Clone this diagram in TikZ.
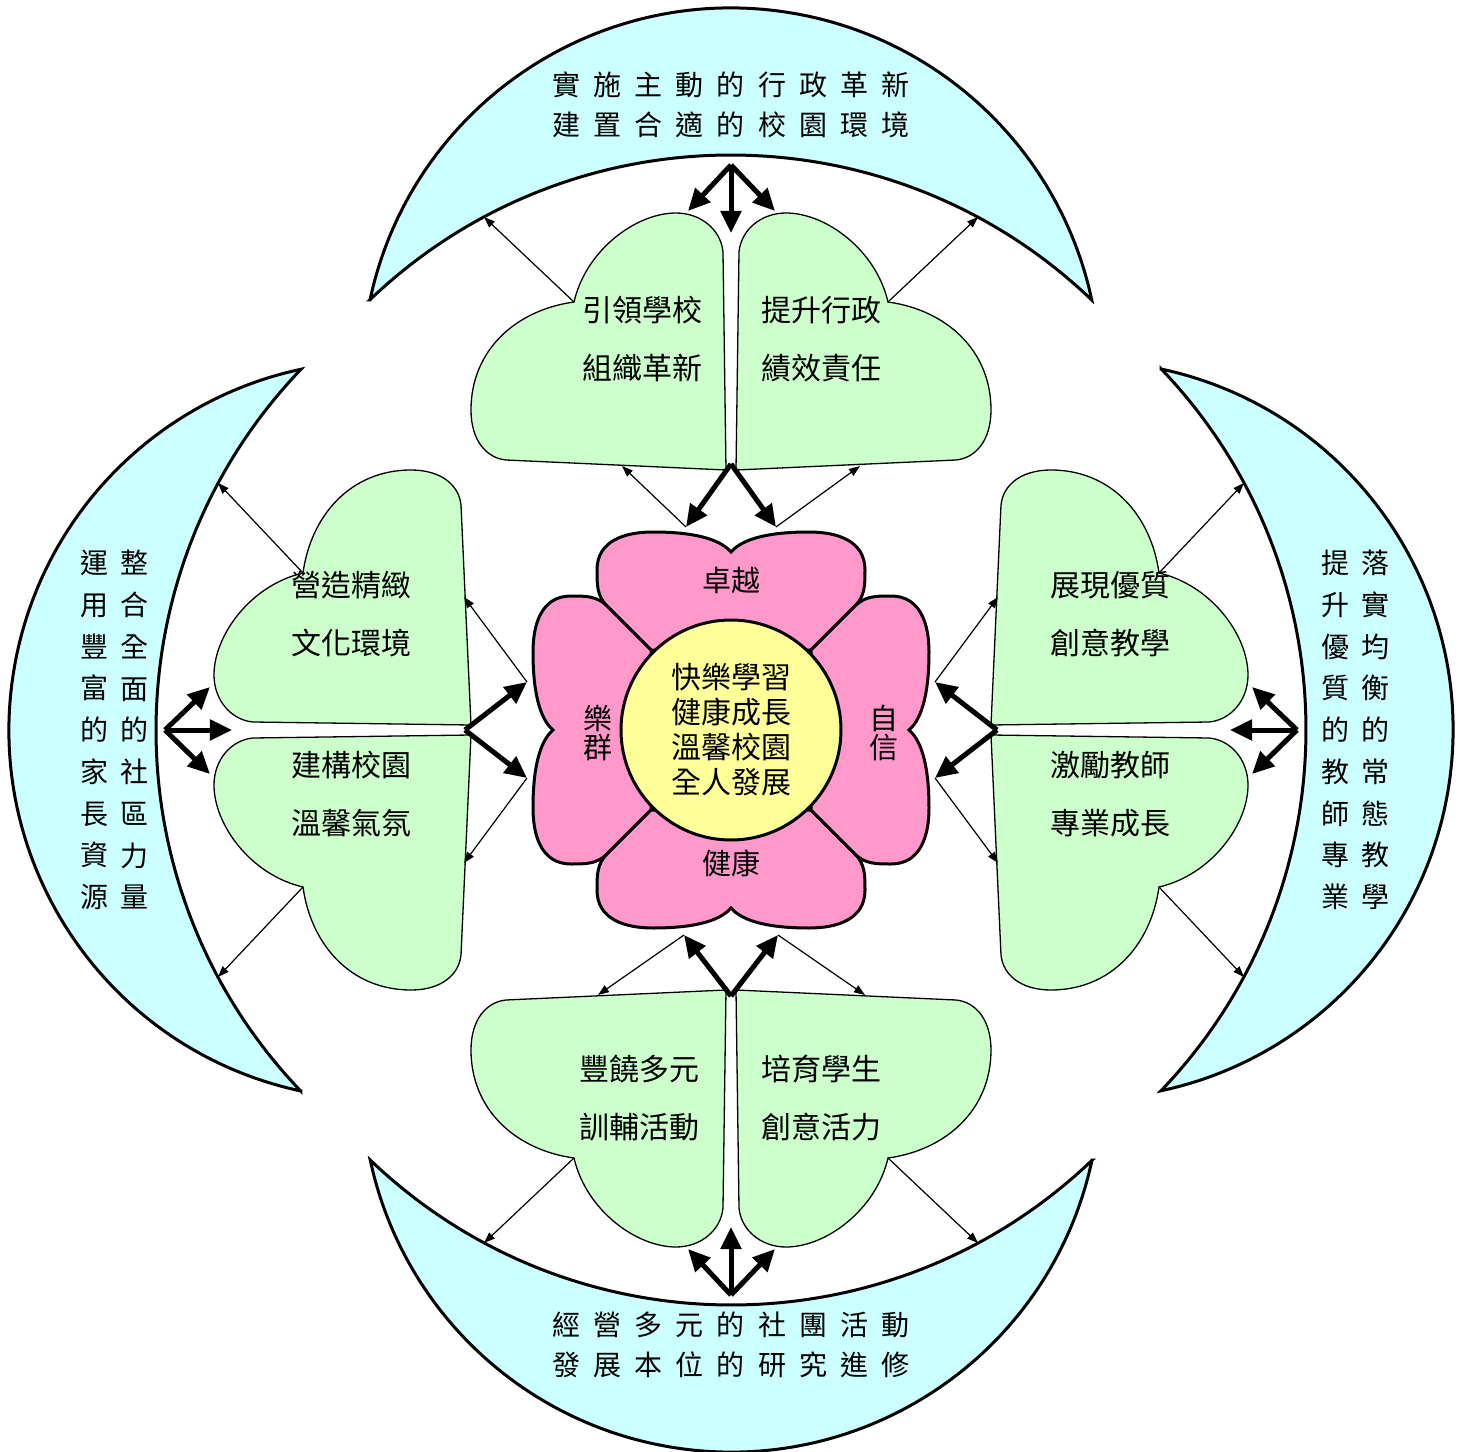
\documentclass[tikz,border=0pt]{standalone}
\usepackage{fontspec}
\usepackage{xcolor}
\usepackage{tikz}
\usetikzlibrary{arrows.meta}

\newfontfamily\cjk{Noto Sans CJK TC}

\definecolor{moonblue}{HTML}{CCFFFF}
\definecolor{leafgreen}{HTML}{CCFFCC}
\definecolor{petalpink}{HTML}{FF99CC}
\definecolor{heartyellow}{HTML}{FFFF99}

% outlines, drawn at the top and turned into place
\newcommand{\moonpath}{(-361,430) arc[start angle=167.96, end angle=12.04, radius=369]
  arc[start angle=46.24, end angle=133.76, radius=522] -- cycle}
\newcommand{\leafpath}{(-5,260) -- (-8,478) .. controls (-10,500) and (-30,517) .. (-55,517)
  .. controls (-95,517) and (-145,480) .. (-157,428)
  .. controls (-215,420) and (-260,380) .. (-260,320)
  .. controls (-260,290) and (-245,272) .. (-225,270) -- cycle}
\newcommand{\petalpath}{(-80,80) -- (-124,124) .. controls (-134,134) and (-134,145) .. (-134,160)
  .. controls (-134,190) and (-105,198) .. (-78,198) .. controls (-40,198) and (-12,192) .. (0,178)
  .. controls (12,192) and (40,198) .. (78,198) .. controls (105,198) and (134,190) .. (134,160)
  .. controls (134,145) and (134,134) .. (124,124) -- (80,80) -- cycle}

\begin{document}
\begin{tikzpicture}[x=1pt, y=1pt]
        % Define styles
        \tikzstyle{moon} = [draw, line width=3pt, fill=moonblue]
        \tikzstyle{leaf} = [draw, line width=1.3pt, fill=leafgreen]
        \tikzstyle{petal} = [draw, line width=3pt, fill=petalpink]
        \tikzstyle{core} = [circle, draw, line width=3pt, fill=heartyellow, minimum size=220pt,
                            inner sep=0pt, align=center, font=\cjk\fontsize{30}{35}\selectfont]
        \tikzstyle{goal} = [align=center, font={\cjk\fontsize{28}{40}\selectfont\spaceskip=13.2pt\relax}]
        \tikzstyle{goalv} = [align=center, font=\cjk\fontsize{28}{41.75}\selectfont]
        \tikzstyle{leaftext} = [align=left, font=\cjk\fontsize{30}{58}\selectfont]
        \tikzstyle{petaltext} = [align=center, font=\cjk\fontsize{29}{29}\selectfont]
        \tikzstyle{bigarrow} = [line width=5pt, -{Triangle[length=22pt, width=20pt]}]
        \tikzstyle{thinarrow} = [line width=1.2pt, -{Triangle[length=11pt, width=8pt]}]

        \useasboundingbox (-731,-721) rectangle (732,730);

        % Crescents
        \draw[moon] \moonpath;
        \draw[moon, rotate=90] \moonpath;
        \draw[moon, rotate=180] \moonpath;
        \draw[moon, rotate=-90] \moonpath;

        % Leaves
        \draw[leaf] \leafpath;
        \draw[leaf, xscale=-1] \leafpath;
        \draw[leaf, yscale=-1] \leafpath;
        \draw[leaf, xscale=-1, yscale=-1] \leafpath;
        \draw[leaf, cm={0,-1,-1,0,(0,0)}] \leafpath;
        \draw[leaf, rotate=90] \leafpath;
        \draw[leaf, rotate=-90] \leafpath;
        \draw[leaf, cm={0,1,1,0,(0,0)}] \leafpath;

        % Flower
        \draw[petal] \petalpath;
        \draw[petal, rotate=90] \petalpath;
        \draw[petal, rotate=180] \petalpath;
        \draw[petal, rotate=-90] \petalpath;
        \node (core) [core] at (0,0) {快樂學習\\健康成長\\溫馨校園\\全人發展};

        % Texts
        \node (goalT) [goal] at (0,625) {實 施 主 動 的 行 政 革 新\\建 置 合 適 的 校 園 環 境};
        \node (goalB) [goal] at (0,-615) {經 營 多 元 的 社 團 活 動\\發 展 本 位 的 研 究 進 修};
        \node (goalL1) [goalv] at (-636,0) {運\\用\\豐\\富\\的\\家\\長\\資\\源};
        \node (goalL2) [goalv] at (-596,0) {整\\合\\全\\面\\的\\社\\區\\力\\量};
        \node (goalR1) [goalv] at (604,0) {提\\升\\優\\質\\的\\教\\師\\專\\業};
        \node (goalR2) [goalv] at (644,0) {落\\實\\均\\衡\\的\\常\\態\\教\\學};

        \node (leafTL) [leaftext] at (-88,391) {引領學校\\組織革新};
        \node (leafTR) [leaftext] at (90,391) {提升行政\\績效責任};
        \node (leafLU) [leaftext] at (-379,116) {營造精緻\\文化環境};
        \node (leafLD) [leaftext] at (-379,-64) {建構校園\\溫馨氣氛};
        \node (leafRU) [leaftext] at (379,116) {展現優質\\創意教學};
        \node (leafRD) [leaftext] at (379,-64) {激勵教師\\專業成長};
        \node (leafBL) [leaftext] at (-91,-368) {豐饒多元\\訓輔活動};
        \node (leafBR) [leaftext] at (90,-368) {培育學生\\創意活力};

        \node (petalT) [petaltext] at (0,150) {卓越};
        \node (petalB) [petaltext] at (0,-133) {健康};
        \node (petalL) [petaltext] at (-133,-3) {樂\\群};
        \node (petalR) [petaltext] at (153,-3) {自\\信};

        % Arrow ends
        \coordinate (hubT) at (0,565); \coordinate (inT1) at (-43,519); \coordinate (inT2) at (0,497); \coordinate (inT3) at (44,519);
        \coordinate (jT) at (0,266); \coordinate (pT1) at (-45,203); \coordinate (pT2) at (45,203);
        \coordinate (nT1) at (-157,428); \coordinate (nT2) at (157,428); \coordinate (mT1) at (-247,513); \coordinate (mT2) at (247,513);
        \coordinate (eT1) at (-109,264); \coordinate (eT2) at (129,264);

        \coordinate (hubB) at (0,-565); \coordinate (inB1) at (-43,-519); \coordinate (inB2) at (0,-497); \coordinate (inB3) at (44,-519);
        \coordinate (jB) at (0,-266); \coordinate (pB1) at (-47,-205); \coordinate (pB2) at (47,-205);
        \coordinate (nB1) at (-157,-428); \coordinate (nB2) at (157,-428); \coordinate (mB1) at (-247,-513); \coordinate (mB2) at (247,-513);
        \coordinate (eB1) at (-133,-265); \coordinate (eB2) at (134,-265);

        \coordinate (hubL) at (-566,0); \coordinate (inL1) at (-521,43); \coordinate (inL2) at (-499,0); \coordinate (inL3) at (-521,-44);
        \coordinate (jL) at (-266,0); \coordinate (pL1) at (-204,48); \coordinate (pL2) at (-204,-48);
        \coordinate (nL1) at (-428,157); \coordinate (nL2) at (-428,-157); \coordinate (mL1) at (-513,247); \coordinate (mL2) at (-513,-247);
        \coordinate (eL1) at (-267,133); \coordinate (eL2) at (-267,-133);

        \coordinate (hubR) at (566,0); \coordinate (inR1) at (521,43); \coordinate (inR2) at (499,0); \coordinate (inR3) at (521,-44);
        \coordinate (jR) at (266,0); \coordinate (pR1) at (204,48); \coordinate (pR2) at (204,-48);
        \coordinate (nR1) at (428,157); \coordinate (nR2) at (428,-157); \coordinate (mR1) at (513,247); \coordinate (mR2) at (513,-247);
        \coordinate (eR1) at (267,133); \coordinate (eR2) at (267,-133);

        % Arrows
        \path[bigarrow] (hubT) edge (inT1) edge (inT2) edge (inT3);
        \path[bigarrow] (hubB) edge (inB1) edge (inB2) edge (inB3);
        \path[bigarrow] (hubL) edge (inL1) edge (inL2) edge (inL3);
        \path[bigarrow] (hubR) edge (inR1) edge (inR2) edge (inR3);
        \path[bigarrow] (jT) edge (pT1) edge (pT2);
        \path[bigarrow] (jB) edge (pB1) edge (pB2);
        \path[bigarrow] (jL) edge (pL1) edge (pL2);
        \path[bigarrow] (jR) edge (pR1) edge (pR2);

        \path[thinarrow] (nT1) edge (mT1) (nT2) edge (mT2) (pT1) edge (eT1) (pT2) edge (eT2);
        \path[thinarrow] (nB1) edge (mB1) (nB2) edge (mB2) (pB1) edge (eB1) (pB2) edge (eB2);
        \path[thinarrow] (nL1) edge (mL1) (nL2) edge (mL2) (pL1) edge (eL1) (pL2) edge (eL2);
        \path[thinarrow] (nR1) edge (mR1) (nR2) edge (mR2) (pR1) edge (eR1) (pR2) edge (eR2);
\end{tikzpicture}
\end{document}
